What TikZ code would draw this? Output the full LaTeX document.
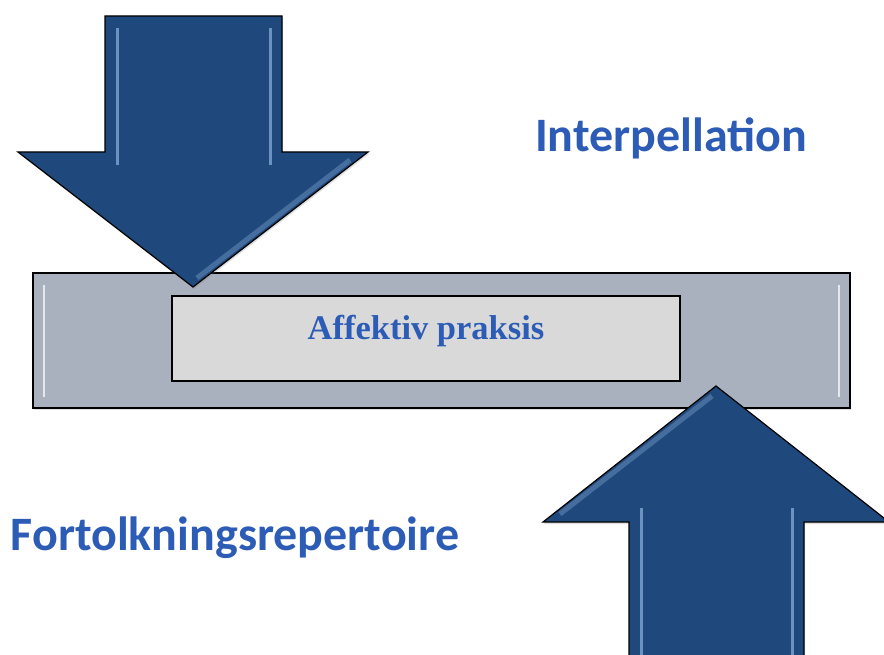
\documentclass[tikz,border=0pt]{standalone}
\usepackage{fontspec}
\setmainfont{Liberation Serif}
\newfontfamily\headfont{Carlito}
\usetikzlibrary{shadows}

\definecolor{arrowblue}{RGB}{31,73,125}
\definecolor{barfill}{RGB}{169,176,190}
\definecolor{boxfill}{RGB}{217,217,217}
\definecolor{textblue}{RGB}{44,92,182}
\definecolor{glint}{RGB}{160,195,235}

\tikzset{
  bigarrow/.style={fill=arrowblue, draw=black, line width=1.2pt, line join=miter,
    drop shadow={opacity=0.25, shadow xshift=1pt, shadow yshift=-2pt}},
  glintline/.style={glint, line width=3pt, opacity=0.6},
  bevel/.style={glint, line width=5pt, opacity=0.3},
  headtext/.style={font=\headfont\bfseries\fontsize{48}{50}\selectfont, text=textblue, anchor=base, inner sep=0pt},
  praksistext/.style={font=\bfseries\fontsize{34.5}{38}\selectfont, text=textblue, anchor=base, inner sep=0pt}
}

\begin{document}
\begin{tikzpicture}[x=1pt,y=-1pt]
        \useasboundingbox[fill=white] (0,0) rectangle (884,655);
        % bar and inner box
        \filldraw[fill=barfill, draw=black, line width=1.2pt,
          drop shadow={opacity=0.25, shadow xshift=1pt, shadow yshift=-2pt}] (33,273) rectangle (850,408);
        \draw[white, line width=2.5pt, opacity=0.7] (44,285) -- (44,397);
        \draw[white, line width=2.5pt, opacity=0.7] (839,285) -- (839,397);
        \filldraw[fill=boxfill, draw=black, line width=1.2pt] (172,296) rectangle (680,381);
        \node[praksistext] (affekt) at (426,339) {Affektiv praksis};
        % arrow down
        \draw[bigarrow] (105,16) -- (282,16) -- (282,152) -- (368,152) -- (193,287)
          -- (18,152) -- (105,152) -- cycle;
        \draw[glintline] (117,28) -- (117,165);
        \draw[glintline] (270,28) -- (270,165);
        \draw[bevel] (350,160) -- (197,278);
        % arrow up
        \draw[bigarrow] (629,670) -- (629,522) -- (543,522) -- (716,386) -- (889,522)
          -- (804,522) -- (804,670) -- cycle;
        \draw[glintline] (641,508) -- (641,655);
        \draw[glintline] (792,508) -- (792,655);
        \draw[bevel] (560,514) -- (712,396);
        % labels
        \node[headtext] (interp) at (671,152) {Interpellation};
        \node[headtext] (fortolk) at (235,550) {Fortolkningsrepertoire};
    \end{tikzpicture}
\end{document}
